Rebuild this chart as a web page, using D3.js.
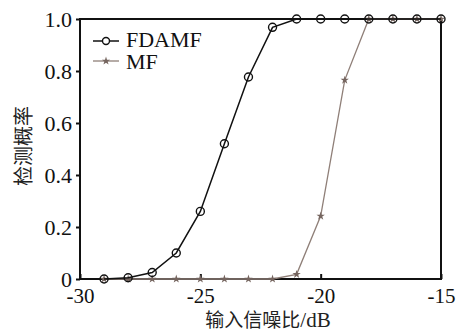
<!DOCTYPE html>
<html>
<head>
<meta charset="utf-8">
<script src="https://cdn.jsdelivr.net/npm/d3@7"></script>
<style>
body { margin: 0; background: #fff; }
</style>
</head>
<body>
<div class="chart"></div>
<script>
const width = 460;
const height = 332;

const snr = [-29, -28, -27, -26, -25, -24, -23, -22, -21, -20, -19, -18, -17, -16, -15];
const fdamf = [0, 0.005, 0.025, 0.1, 0.26, 0.52, 0.777, 0.968, 1, 1, 1, 1, 1, 1, 1];
const mf = [0, 0, 0, 0, 0, 0, 0, 0, 0.018, 0.242, 0.765, 1, 1, 1, 1];
const xTicks = [-30, -25, -20, -15];
const yTicks = [0, 0.2, 0.4, 0.6, 0.8, 1.0];

const plotL = 80, plotR = 441, plotT = 19, plotB = 279;
const serif = '"Liberation Serif", "Times New Roman", serif';
const cjk = '"Noto Sans CJK SC", sans-serif';

const x = d3.scaleLinear().domain([-30, -15]).range([plotL, plotR]);
const y = d3.scaleLinear().domain([0, 1]).range([plotB, plotT]);

const svg = d3.select('.chart')
	.append('svg')
	.attr('width', width)
	.attr('height', height)

// frame
svg.append('rect')
	.attr('x', plotL)
	.attr('y', plotT)
	.attr('width', plotR - plotL)
	.attr('height', plotB - plotT)
	.attr('fill', 'none')
	.attr('stroke', '#111')
	.attr('stroke-width', 2)

// x axis, ticks point inward
const xAxis = svg.append('g')
	.attr('transform', 'translate(0,' + plotB + ')')
	.call(d3.axisBottom(x).tickValues(xTicks).tickSizeInner(-5).tickSizeOuter(0))
xAxis.select('.domain').remove()
xAxis.selectAll('line').attr('stroke', '#111').attr('stroke-width', 2)
xAxis.selectAll('text')
	.style('font-family', serif)
	.style('font-size', '21px')
	.attr('fill', '#111')
	.attr('y', 9)
	.text(d => String(d))

// y axis, ticks point outward
const yAxis = svg.append('g')
	.attr('transform', 'translate(' + plotL + ',0)')
	.call(d3.axisLeft(y).tickValues(yTicks).tickSizeInner(4).tickSizeOuter(0).tickPadding(4)
		.tickFormat(d => d === 0 ? '0' : d3.format('.1f')(d)))
yAxis.select('.domain').remove()
yAxis.selectAll('line').attr('stroke', '#111').attr('stroke-width', 2)
yAxis.selectAll('text')
	.style('font-family', serif)
	.style('font-size', '22px')
	.attr('fill', '#111')

// axis titles
const xt = svg.append('text')
	.attr('x', 268)
	.attr('y', 327)
	.attr('text-anchor', 'middle')
	.attr('fill', '#222')
xt.append('tspan').style('font-family', cjk).style('font-size', '19px').text('输入信噪比')
xt.append('tspan').style('font-family', serif).style('font-size', '21px').text('/dB')

svg.append('text')
	.attr('transform', 'translate(31,146) rotate(-90)')
	.attr('text-anchor', 'middle')
	.style('font-family', cjk)
	.style('font-size', '20px')
	.attr('fill', '#222')
	.text('检测概率')

const line = d3.line()
	.x(d => x(d[0]))
	.y(d => y(d[1]))

const mfColor = '#8f7f78';
const mfMark = '#75655f';

// MF series
const mfData = snr.map((s, i) => [s, mf[i]])
svg.append('path')
	.datum(mfData)
	.attr('d', line)
	.attr('fill', 'none')
	.attr('stroke', mfColor)
	.attr('stroke-width', 1.3)

const star = d3.symbol().type(d3.symbolStar).size(22)
svg.selectAll('.mfpt')
	.data(mfData)
	.enter()
	.append('path')
	.attr('d', star)
	.attr('transform', d => 'translate(' + x(d[0]) + ',' + y(d[1]) + ')')
	.attr('fill', mfMark)

// FDAMF series
const fdData = snr.map((s, i) => [s, fdamf[i]])
svg.append('path')
	.datum(fdData)
	.attr('d', line)
	.attr('fill', 'none')
	.attr('stroke', '#111')
	.attr('stroke-width', 1.5)

svg.selectAll('.fdpt')
	.data(fdData)
	.enter()
	.append('circle')
	.attr('cx', d => x(d[0]))
	.attr('cy', d => y(d[1]))
	.attr('r', 4)
	.attr('fill', 'none')
	.attr('stroke', '#111')
	.attr('stroke-width', 1.4)

// legend
svg.append('line')
	.attr('x1', 93).attr('x2', 119).attr('y1', 41).attr('y2', 41)
	.attr('stroke', '#111').attr('stroke-width', 1.5)
svg.append('circle')
	.attr('cx', 106).attr('cy', 41).attr('r', 3.5)
	.attr('fill', '#fff').attr('stroke', '#111').attr('stroke-width', 1.4)
svg.append('text')
	.attr('x', 126).attr('y', 47)
	.style('font-family', serif).style('font-size', '22px')
	.attr('fill', '#111')
	.text('FDAMF')

svg.append('line')
	.attr('x1', 93).attr('x2', 119).attr('y1', 61).attr('y2', 61)
	.attr('stroke', mfColor).attr('stroke-width', 1.3)
svg.append('path')
	.attr('d', star)
	.attr('transform', 'translate(106,61)')
	.attr('fill', mfMark)
svg.append('text')
	.attr('x', 126).attr('y', 69)
	.style('font-family', serif).style('font-size', '22px')
	.attr('fill', '#111')
	.text('MF')
</script>
</body>
</html>
